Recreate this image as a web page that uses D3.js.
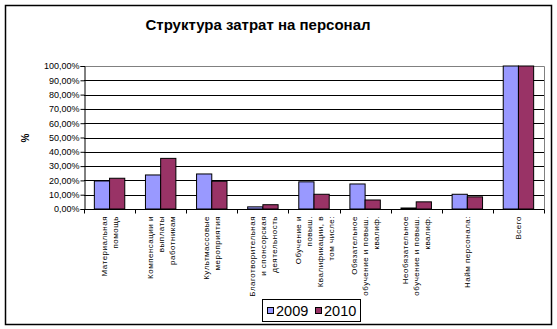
<!DOCTYPE html>
<html><head><meta charset="utf-8">
<script src="https://cdn.jsdelivr.net/npm/d3@7"></script>
<style>body{margin:0;background:#fff;} text{font-family:"Liberation Sans",Arial,sans-serif;}</style>
</head><body>
<svg id="c" width="557" height="329"></svg>
<script>
const categories = [
  ["Материальная","помощь"],
  ["Компенсации и","выплаты","работникам"],
  ["Культмассовые","мероприятия"],
  ["Благотворительная","и спонсорская","деятельность"],
  ["Обучение и","повыш.","Квалификации, в","том числе:"],
  ["Обязательное","обучение и повыш.","квалиф."],
  ["Необязательное","обучение и повыш.","квалиф."],
  ["Найм персонала:"],
  ["Всего"]
];
const series = ["2009","2010"];
const values2009 = [19.6, 23.8, 24.5, 1.5, 19.0, 17.5, 0.7, 10.3, 100];
const values2010 = [21.5, 35.4, 19.4, 3.0, 10.3, 6.3, 5.0, 8.5, 100];
const yTicks = [0,10,20,30,40,50,60,70,80,90,100];
const colors = ["#9999FF","#993366"];

const svg = d3.select("#c");
const L=84, R=544, T=66, B=209;
const x = d3.scaleBand().domain(d3.range(categories.length)).range([L,R]).paddingInner(0).paddingOuter(0);
const xs = d3.scaleBand().domain(series).range([0,x.bandwidth()]).paddingInner(0).paddingOuter(0.68);
const y = d3.scaleLinear().domain([0,100]).range([B,T]);

// frame
svg.append("rect").attr("x",5.5).attr("y",5.5).attr("width",546).attr("height",319)
  .attr("fill","#fff").attr("stroke","#000").attr("stroke-width",1.5);

// title
svg.append("text").attr("x",258).attr("y",30).attr("text-anchor","middle")
  .attr("font-size",15).attr("font-weight","bold").text("Структура затрат на персонал");

// gridlines
svg.append("g").selectAll("line").data(yTicks.filter(d=>d>0&&d<100)).join("line")
  .attr("x1",L).attr("x2",R).attr("y1",d=>Math.round(y(d))+0.5).attr("y2",d=>Math.round(y(d))+0.5)
  .attr("stroke","#000").attr("stroke-width",1);
// plot border top/right (gray)
svg.append("path").attr("d",`M${L},${T+0.5}H${R+0.5}V${B}`).attr("fill","none").attr("stroke","#808080").attr("stroke-width",1);

// bars
const data = [values2009, values2010];
const g = svg.append("g");
categories.forEach((c,i)=>{
  series.forEach((s,j)=>{
    const v = data[j][i];
    g.append("rect")
      .attr("x", x(i)+xs(s)).attr("y", y(v))
      .attr("width", xs.bandwidth()).attr("height", B - y(v))
      .attr("fill", colors[j]).attr("stroke","#000").attr("stroke-width",1);
  });
});

// y axis
const ya = d3.axisLeft(y).tickValues(yTicks).tickSize(4).tickFormat(d=>d3.format(".2f")(d).replace(".",",")+"%");
const yg = svg.append("g").attr("transform",`translate(${L+0.5},0)`).call(ya);
yg.select(".domain").attr("stroke","#000");
yg.selectAll("text").attr("font-size",9).attr("fill","#000").attr("x",-5).attr("font-family","Liberation Sans, Arial, sans-serif");

// x axis
const xg = svg.append("g").attr("transform",`translate(0,${B+0.5})`);
xg.append("line").attr("x1",L).attr("x2",R+0.5).attr("stroke","#000");
const tickPos = d3.range(categories.length+1).map(i=> i<categories.length ? x(i) : R);
xg.selectAll(".tk").data(tickPos).join("line").attr("class","tk")
  .attr("x1",d=>Math.round(d)+0.5).attr("x2",d=>Math.round(d)+0.5).attr("y1",0).attr("y2",4).attr("stroke","#000");

// category labels
categories.forEach((lines,i)=>{
  const cx = x(i)+x.bandwidth()/2;
  const n = lines.length, sp = 11;
  lines.forEach((ln,k)=>{
    const lx = cx + (k-(n-1)/2)*sp + 3;
    svg.append("text").attr("transform",`translate(${lx},216) rotate(-90)`)
      .attr("text-anchor","end").attr("font-size",8).attr("letter-spacing",0.5).text(ln);
  });
});

// y title
svg.append("text").attr("transform","translate(29,138) rotate(-90)").attr("text-anchor","middle")
  .attr("font-size",10).attr("font-weight","bold").text("%");

// legend
const lg = svg.append("g");
lg.append("rect").attr("x",262.5).attr("y",299.5).attr("width",98).attr("height",22).attr("fill","#fff").attr("stroke","#000");
const lx0 = [267, 315];
series.forEach((s,j)=>{
  lg.append("rect").attr("x",lx0[j]+0.5).attr("y",307.5).attr("width",6).attr("height",6).attr("fill",colors[j]).attr("stroke","#000");
  lg.append("text").attr("x",lx0[j]+9).attr("y",316).attr("font-size",14.5).text(s);
});
</script>
</body></html>
